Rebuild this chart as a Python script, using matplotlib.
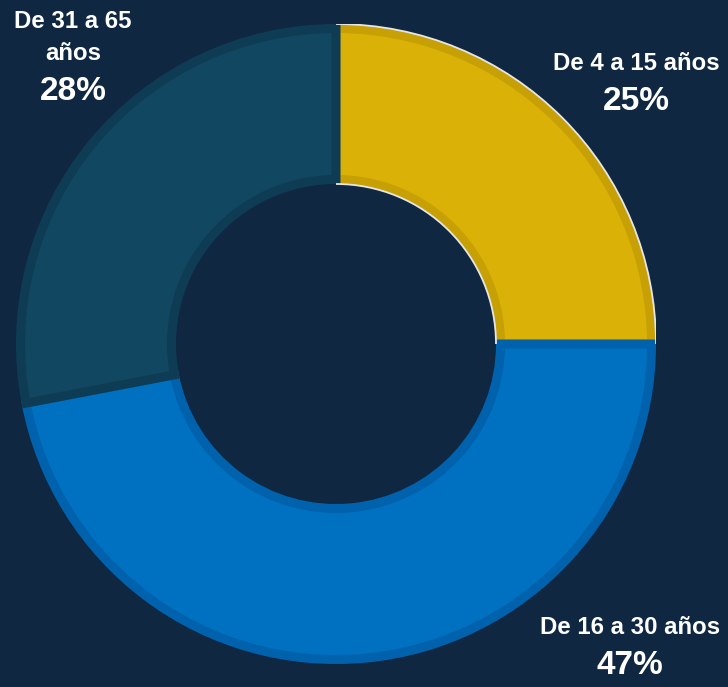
import matplotlib.pyplot as plt
from matplotlib.patches import Arc

labels = ['De 4 a 15 años', 'De 16 a 30 años', 'De 31 a 65', 'años']
values = [25, 47, 28]
colors = ['#dab107', '#0070c0', '#114760']
edges = ['#c6a005', '#0062ad', '#0f3c55']

bg = '#0f2741'
W, H = 728, 687
R = 320  # outer radius in px
border = 9  # px of darker border

fig = plt.figure(figsize=(W / 100, H / 100), dpi=100, facecolor=bg)
# pie centre ~ (336, 344) px
ax = fig.add_axes([(336 - R) / W, (H - 344 - R) / H, 2 * R / W, 2 * R / H])
ax.set_facecolor(bg)
ax.axis('off')

d = border / R
wedges, _ = ax.pie(values, colors=colors, startangle=90, counterclock=False,
                   radius=1 - d / 2,
                   wedgeprops=dict(width=0.5 - d, linewidth=border * 0.72))
for w, ec in zip(wedges, edges):
    w.set_edgecolor(ec)

# thin light highlight on the yellow slice arcs
ax.add_patch(Arc((0, 0), 2.0, 2.0, theta1=0, theta2=90, color='#e6e6e6', lw=1.3))
ax.add_patch(Arc((0, 0), 1.0, 1.0, theta1=0, theta2=90, color='#e6e6e6', lw=1.3))
ax.set_xlim(-1, 1)
ax.set_ylim(-1, 1)
ax.set_aspect('equal')

font = 'Liberation Sans'


def put(x, y, s, size):
    fig.text(x / W, 1 - y / H, s, ha='center', va='center', color='white',
             fontsize=size, fontweight='bold', family=font)


pcts = [f'{v}%' for v in values]
put(636, 63, labels[0], 17.3)
put(636, 102, pcts[0], 24)
put(630, 627, labels[1], 17.3)
put(630, 665, pcts[1], 24)
put(73, 22, labels[2], 17.3)
put(73, 53, labels[3], 17.3)
put(73, 92, pcts[2], 24)

fig.savefig('out.png', dpi=100, facecolor=bg)
